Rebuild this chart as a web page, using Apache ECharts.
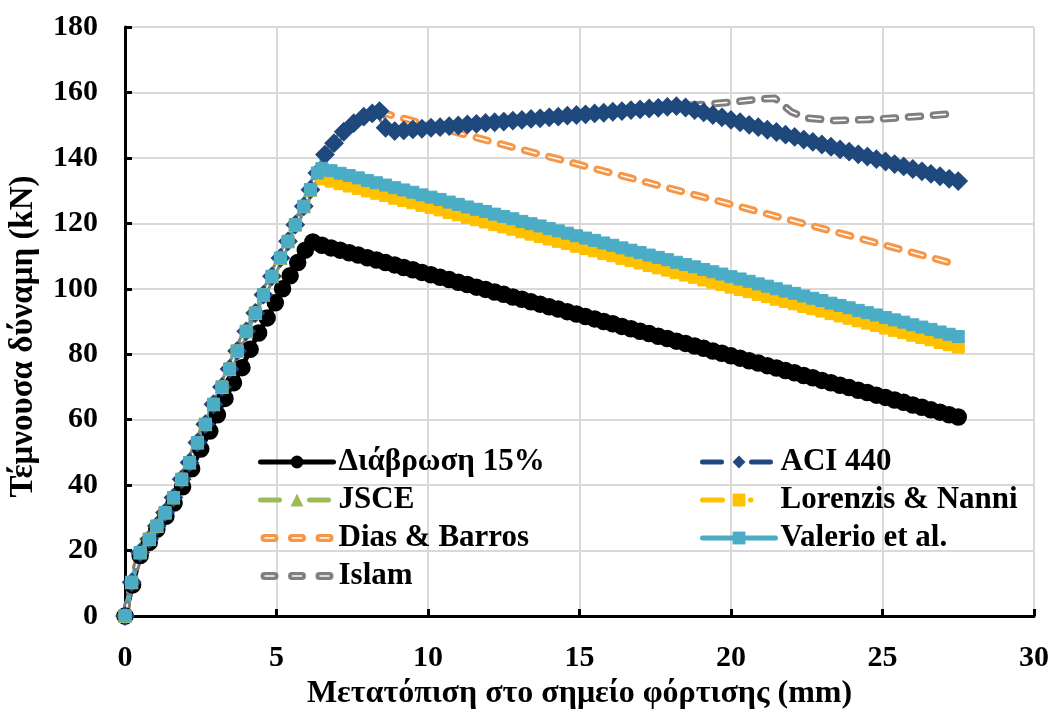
<!DOCTYPE html>
<html>
<head>
<meta charset="utf-8">
<script src="https://cdn.jsdelivr.net/npm/echarts@6/dist/echarts.min.js"></script>
<style>
html, body { margin: 0; padding: 0; background: #fff; }
#chart { width: 1053px; height: 714px; }
</style>
</head>
<body>
<div id="chart"></div>
<script>
// Load–displacement curves: corroded beam (15%) and shear-strength models.

// Rising branch shared by the model curves (mm, kN)
const dispRise = [0, 0.22, 0.5, 0.8, 1.05, 1.32, 1.6, 1.87, 2.13, 2.39, 2.65, 2.92, 3.2, 3.45, 3.7, 4.0, 4.3, 4.57, 4.85, 5.13, 5.38, 5.62, 5.9, 6.12, 6.35];
const loadRise = [0, 10.3, 19.4, 23.5, 27.5, 31.6, 36.2, 41.8, 46.9, 53, 58.6, 64.7, 70, 75.5, 81, 87, 92.6, 98.2, 103.8, 109.4, 114.5, 119.6, 125.2, 130.3, 135.4];

// Rising branch of the corroded beam
const corrDispRise = [0, 0.25, 0.5, 0.8, 1.05, 1.35, 1.62, 1.9, 2.2, 2.5, 2.8, 3.05, 3.3, 3.58, 3.86, 4.13, 4.41, 4.69, 4.96, 5.2, 5.45, 5.7, 5.95, 6.2];
const corrLoadRise = [0, 9.5, 18.5, 22.5, 26.5, 30.5, 34.5, 39.5, 45, 51, 56.5, 61.5, 66.5, 71.3, 75.9, 81.5, 86.5, 91.1, 95.7, 100, 104, 108, 111.8, 114.3];

// Post-peak displacement steps (mm)
const dispTail = [6.5, 6.8, 7.1, 7.4, 7.7, 8.0, 8.3, 8.6, 8.9, 9.2,
  9.5, 9.8, 10.1, 10.4, 10.7, 11.0, 11.3, 11.6, 11.9, 12.2,
  12.5, 12.8, 13.1, 13.4, 13.7, 14.0, 14.3, 14.6, 14.9, 15.2,
  15.5, 15.8, 16.1, 16.4, 16.7, 17.0, 17.3, 17.6, 17.9, 18.2,
  18.5, 18.8, 19.1, 19.4, 19.7, 20.0, 20.3, 20.6, 20.9, 21.2,
  21.5, 21.8, 22.1, 22.4, 22.7, 23.0, 23.3, 23.6, 23.9, 24.2,
  24.5, 24.8, 25.1, 25.4, 25.7, 26.0, 26.3, 26.6, 26.9, 27.2,
  27.5];

const corrLoadTail = [113.3, 112.5, 111.8, 111.0, 110.3, 109.5, 108.8, 108.0, 107.3, 106.5,
  105.8, 105.0, 104.3, 103.5, 102.8, 102.0, 101.3, 100.5, 99.8, 99.0,
  98.3, 97.5, 96.8, 96.0, 95.3, 94.5, 93.8, 93.0, 92.3, 91.5,
  90.8, 90.0, 89.3, 88.5, 87.8, 87.0, 86.3, 85.5, 84.8, 84.0,
  83.3, 82.5, 81.8, 81.0, 80.3, 79.5, 78.8, 78.0, 77.3, 76.5,
  75.8, 75.0, 74.3, 73.5, 72.8, 72.0, 71.3, 70.5, 69.8, 69.0,
  68.3, 67.5, 66.8, 66.0, 65.3, 64.5, 63.8, 63.0, 62.3, 61.5,
  60.8];

const valerioLoadTail = [136.8, 136.1, 135.3, 134.6, 133.9, 133.1, 132.4, 131.7, 130.9, 130.2,
  129.5, 128.7, 128.0, 127.3, 126.5, 125.8, 125.0, 124.3, 123.6, 122.8,
  122.1, 121.4, 120.6, 119.9, 119.2, 118.4, 117.7, 117.0, 116.2, 115.5,
  114.8, 114.0, 113.3, 112.5, 111.8, 111.1, 110.3, 109.6, 108.9, 108.1,
  107.4, 106.7, 105.9, 105.2, 104.5, 103.7, 103.0, 102.3, 101.5, 100.8,
  100.0, 99.3, 98.6, 97.8, 97.1, 96.4, 95.6, 94.9, 94.2, 93.4,
  92.7, 92.0, 91.2, 90.5, 89.8, 89.0, 88.3, 87.6, 86.8, 86.1,
  85.4];

const jsceLoadTail = [135.0, 134.3, 133.5, 132.8, 132.1, 131.3, 130.6, 129.9, 129.1, 128.4,
  127.7, 126.9, 126.2, 125.5, 124.7, 124.0, 123.2, 122.5, 121.8, 121.0,
  120.3, 119.6, 118.8, 118.1, 117.4, 116.6, 115.9, 115.2, 114.4, 113.7,
  113.0, 112.2, 111.5, 110.7, 110.0, 109.3, 108.5, 107.8, 107.1, 106.3,
  105.6, 104.9, 104.1, 103.4, 102.7, 101.9, 101.2, 100.5, 99.7, 99.0,
  98.2, 97.5, 96.8, 96.0, 95.3, 94.6, 93.8, 93.1, 92.4, 91.6,
  90.9, 90.2, 89.4, 88.7, 88.0, 87.2, 86.5, 85.8, 85.0, 84.3,
  83.6];

const lorenzisLoadTail = [133.6, 132.9, 132.1, 131.4, 130.7, 129.9, 129.2, 128.5, 127.7, 127.0,
  126.3, 125.5, 124.8, 124.1, 123.3, 122.6, 121.8, 121.1, 120.4, 119.6,
  118.9, 118.2, 117.4, 116.7, 116.0, 115.2, 114.5, 113.8, 113.0, 112.3,
  111.6, 110.8, 110.1, 109.3, 108.6, 107.9, 107.1, 106.4, 105.7, 104.9,
  104.2, 103.5, 102.7, 102.0, 101.3, 100.5, 99.8, 99.1, 98.3, 97.6,
  96.8, 96.1, 95.4, 94.6, 93.9, 93.2, 92.4, 91.7, 91.0, 90.2,
  89.5, 88.8, 88.0, 87.3, 86.6, 85.8, 85.1, 84.4, 83.6, 82.9,
  82.2];

// ACI 440: climb to the first peak, then from 8.9 mm onwards on the dispTail steps
const aciDispPeak = [6.6, 6.9, 7.22, 7.55, 7.88, 8.16, 8.4, 8.6];
const aciLoadPeak = [141, 144.5, 148, 150.6, 152.6, 153.6, 154.3, 149.2];
const aciLoadTail = [148.2, 148.4, 148.7, 148.9, 149.2, 149.4, 149.7, 149.9, 150.2, 150.4,
  150.7, 150.9, 151.1, 151.4, 151.6, 151.9, 152.1, 152.4, 152.6, 152.9,
  153.1, 153.3, 153.6, 153.8, 154.1, 154.3, 154.6, 154.8, 155.1, 155.3,
  155.6, 155.8,
  155.4, 154.6, 153.9, 153.1, 152.4, 151.6, 150.9, 150.1, 149.4, 148.6,
  147.9, 147.1, 146.4, 145.6, 144.9, 144.1, 143.4, 142.6, 141.9, 141.1,
  140.4, 139.6, 138.9, 138.1, 137.4, 136.6, 135.9, 135.1, 134.4, 133.6,
  132.9];

// Dias & Barros after the rising branch
const diasDisp = [6.6, 6.9, 7.22, 7.55, 7.88, 8.16, 8.4, 12, 16, 20, 24, 27.3];
const diasLoad = [140.5, 144, 147.5, 150.2, 152.2, 153.3, 154, 145.2, 135.5, 125.8, 116, 107.8];

// Islam after the rising branch
const islamDisp = [6.6, 6.9, 7.22, 7.55, 7.88, 8.16, 8.4, 8.6, 8.9, 12, 15, 18.2, 19.3, 20.2, 21.0, 21.45, 22.0, 22.5, 23.4, 24.5, 25.6, 26.5, 27.2];
const islamLoad = [141, 144.5, 148, 150.6, 152.6, 153.6, 154.3, 149.2, 148.2, 150.8, 153.2, 155.8, 156.5, 157.2, 158.0, 158.2, 154.0, 152.2, 151.4, 151.7, 152.3, 152.9, 153.4];

const seriesNames = ['Διάβρωση 15%', 'ACI 440', 'JSCE', 'Lorenzis & Nanni', 'Dias & Barros', 'Valerio et al.', 'Islam'];
const xTitle = 'Μετατόπιση στο σημείο φόρτισης (mm)';
const yTitle = 'Τέμνουσα δύναμη (kN)';

function pairs(xs, ys) { return xs.map((x, i) => [x, ys[i]]); }

const corrosionData = pairs(corrDispRise, corrLoadRise).concat(pairs(dispTail, corrLoadTail));
const aciData = pairs(dispRise, loadRise).concat(pairs(aciDispPeak, aciLoadPeak), pairs(dispTail.slice(8), aciLoadTail));
const jsceData = pairs(dispRise.slice(0, 24), loadRise.slice(0, 24)).concat(pairs(dispTail, jsceLoadTail));
const lorenzisData = pairs(dispRise.slice(0, 24), loadRise.slice(0, 24)).concat(pairs(dispTail, lorenzisLoadTail));
const valerioData = pairs(dispRise, loadRise).concat(pairs(dispTail, valerioLoadTail));
const diasData = pairs(dispRise, loadRise).concat(pairs(diasDisp, diasLoad));
const islamData = pairs(dispRise, loadRise).concat(pairs(islamDisp, islamLoad));

const FONT = '"Liberation Serif", "Times New Roman", serif';
const COLORS = {
  corr: '#000000', aci: '#1f497d', jsce: '#9bbb59', lorenzis: '#ffc000',
  dias: '#f79646', valerio: '#4bacc6', islam: '#7f7f7f'
};
const HOLLOW_DASH = [12, 13];
// three outlined round-ended dashes for the legend of the double-stroke lines
const HOLLOW_ICON = 'path://' +
  'M4 0H14A4 4 0 0 1 14 8H4A4 4 0 0 1 4 0ZM4 3.2V4.8H14V3.2Z' +
  'M31.5 0H41.5A4 4 0 0 1 41.5 8H31.5A4 4 0 0 1 31.5 0ZM31.5 3.2V4.8H41.5V3.2Z' +
  'M59 0H69A4 4 0 0 1 69 8H59A4 4 0 0 1 59 0ZM59 3.2V4.8H69V3.2Z';

const base = { type: 'line', animation: false, silent: true, emphasis: { disabled: true }, clip: true };

function markerSeries(name, data, color, symbol, size, border, lineType) {
  return Object.assign({}, base, {
    name, data, color, symbol, symbolSize: size, showSymbol: true,
    itemStyle: { color, borderColor: color, borderWidth: border },
    lineStyle: { color, width: 5, type: lineType, cap: 'round', join: 'round' }
  });
}
function hollowSeries(name, data, color) {
  return [
    Object.assign({}, base, {
      name, data, color, symbol: 'none', showSymbol: false,
      lineStyle: { color, width: 7.5, type: HOLLOW_DASH, cap: 'round', join: 'round' }
    }),
    Object.assign({}, base, {
      name, data, color, symbol: 'none', showSymbol: false,
      lineStyle: { color: '#ffffff', width: 1.6, type: HOLLOW_DASH, cap: 'round', join: 'round' }
    })
  ];
}

const legendCommon = {
  orient: 'vertical', top: 443, padding: 0, itemGap: 0,
  itemWidth: 73, itemHeight: 16, selectedMode: false,
  lineStyle: { width: 5 },
  itemStyle: { borderWidth: 0 },
  textStyle: { fontFamily: FONT, fontWeight: 'bold', fontSize: 31, color: '#000', lineHeight: 38 }
};

const axisText = { fontFamily: FONT, fontWeight: 'bold', fontSize: 30, color: '#000' };

const option = {
  animation: false,
  backgroundColor: '#ffffff',
  textStyle: { fontFamily: FONT },
  grid: { left: 125, right: 19, top: 27, bottom: 98, containLabel: false, outerBoundsMode: 'none' },
  legend: [
    Object.assign({}, legendCommon, {
      left: 258,
      data: [
        seriesNames[0], seriesNames[2],
        { name: seriesNames[4], icon: HOLLOW_ICON, itemStyle: { color: COLORS.dias, borderWidth: 0 } },
        { name: seriesNames[6], icon: HOLLOW_ICON, itemStyle: { color: COLORS.islam, borderWidth: 0 } }
      ]
    }),
    Object.assign({}, legendCommon, {
      left: 700,
      data: [seriesNames[1], seriesNames[3], seriesNames[5]]
    })
  ],
  xAxis: {
    type: 'value', min: 0, max: 30, interval: 5,
    name: xTitle, nameLocation: 'middle', nameGap: 62,
    nameTextStyle: { fontFamily: FONT, fontWeight: 'bold', fontSize: 32, color: '#000' },
    axisLine: { onZero: false, lineStyle: { color: '#000', width: 3 } },
    axisTick: { inside: true, length: 7, lineStyle: { color: '#000', width: 3 } },
    axisLabel: Object.assign({ margin: 27 }, axisText),
    splitLine: { show: true, lineStyle: { color: '#d9d9d9', width: 2 } }
  },
  yAxis: {
    type: 'value', min: 0, max: 180, interval: 20,
    name: yTitle, nameLocation: 'middle', nameGap: 85, nameRotate: 90,
    nameTextStyle: { fontFamily: FONT, fontWeight: 'bold', fontSize: 33, color: '#000', padding: [0, 30, 0, 0] },
    axisLine: { onZero: false, lineStyle: { color: '#000', width: 3 } },
    axisTick: { inside: true, length: 7, lineStyle: { color: '#000', width: 3 } },
    axisLabel: Object.assign({ margin: 27 }, axisText),
    splitLine: { show: true, lineStyle: { color: '#d9d9d9', width: 2 } }
  },
  series: [
    markerSeries(seriesNames[0], corrosionData, COLORS.corr, 'circle', 16, 1.5, 'solid'),
    markerSeries(seriesNames[1], aciData, COLORS.aci, 'diamond', 17, 2, [19, 30]),
    markerSeries(seriesNames[2], jsceData, COLORS.jsce, 'triangle', 13, 1, [19, 30]),
    markerSeries(seriesNames[3], lorenzisData, COLORS.lorenzis, 'rect', 12, 1, [20, 28, 0.5, 30]),
    ...hollowSeries(seriesNames[4], diasData, COLORS.dias),
    markerSeries(seriesNames[5], valerioData, COLORS.valerio, 'rect', 12, 1, 'solid'),
    ...hollowSeries(seriesNames[6], islamData, COLORS.islam)
  ]
};

const chart = echarts.init(document.getElementById('chart'), null, { renderer: 'canvas' });
chart.setOption(option);
</script>
</body>
</html>
